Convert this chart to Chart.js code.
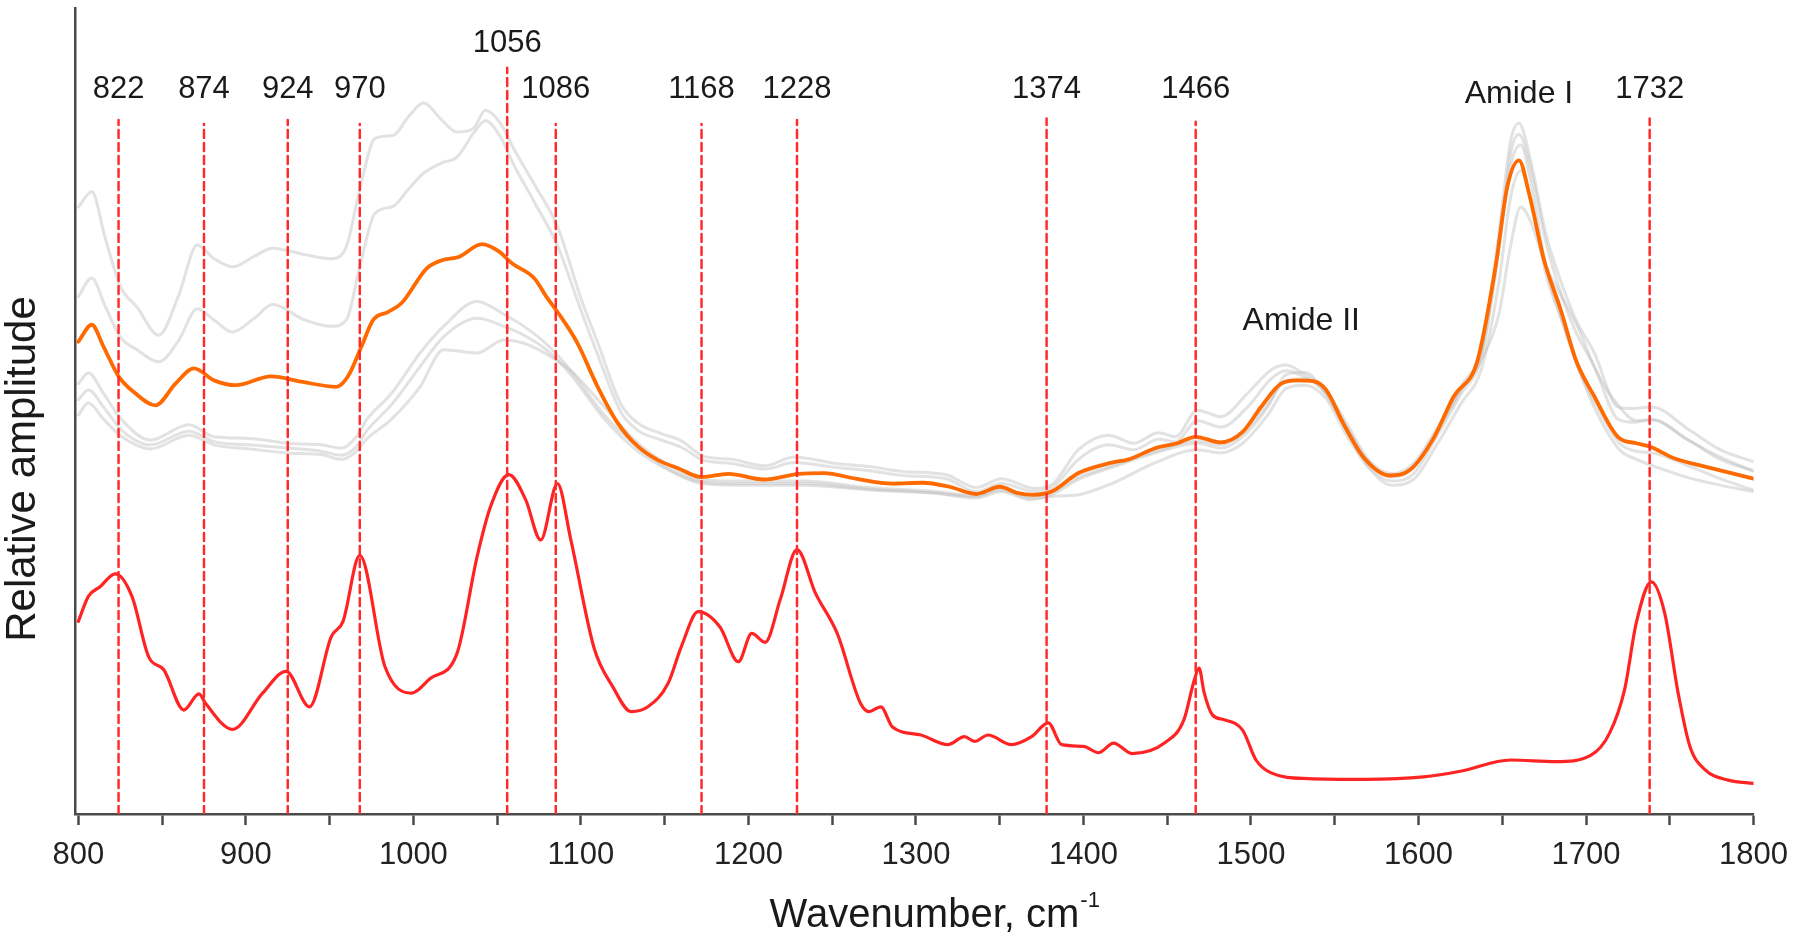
<!DOCTYPE html>
<html>
<head>
<meta charset="utf-8">
<title>Spectra</title>
<script src="https://cdn.jsdelivr.net/npm/chart.js@4.4.1/dist/chart.umd.min.js"></script>
<style>
  html, body { margin: 0; padding: 0; background: #fff; }
  #wrap { width: 1800px; height: 937px; position: relative; }
</style>
</head>
<body>
<div id="wrap"><canvas id="spectra"></canvas></div>
<script>
// wavenumbers (cm-1) and relative amplitude (0 = axis, 100 = top of frame)
const redWn = [800, 806, 813, 822, 832, 842, 851, 863, 872, 876, 892, 910, 924, 938, 951, 958, 968, 983, 999, 1010,
  1026, 1038, 1046, 1057, 1067, 1076, 1086, 1094, 1108, 1119, 1130, 1140, 1152, 1160, 1170, 1183, 1194, 1202, 1210, 1219,
  1229, 1240, 1253, 1267, 1272, 1279, 1286, 1303, 1319, 1329, 1335, 1343, 1357, 1369, 1379, 1387, 1400, 1409, 1418, 1429,
  1449, 1460, 1466, 1469, 1472, 1477, 1484, 1495, 1503, 1512, 1534, 1569, 1603, 1625, 1655, 1682, 1703, 1714, 1723, 1730,
  1739, 1747, 1755, 1762, 1771, 1785, 1800];
const redAmp = [23.9, 27.0, 28.2, 29.8, 27.0, 19.5, 17.9, 12.9, 14.9, 13.7, 10.5, 15.0, 17.7, 13.3, 22.0, 23.9, 32.1, 18.3, 15.0, 16.8,
  19.9, 31.9, 38.1, 42.1, 39.0, 34.0, 41.0, 34.0, 20.5, 15.8, 12.7, 13.3, 16.2, 20.8, 25.1, 23.2, 18.9, 22.4, 21.3, 26.6,
  32.8, 27.4, 22.4, 13.7, 12.7, 13.3, 10.8, 9.8, 8.6, 9.6, 9.0, 9.8, 8.6, 9.6, 11.3, 8.6, 8.4, 7.6, 8.8, 7.5,
  8.9, 11.7, 16.5, 18.1, 15.1, 12.3, 11.7, 10.4, 6.7, 5.1, 4.4, 4.3, 4.6, 5.3, 6.7, 6.5, 7.3, 10.0, 15.4, 23.7,
  28.8, 24.9, 15.0, 8.4, 5.5, 4.2, 3.8];

const orangeWn = [800, 808, 815, 824, 834, 846, 858, 869, 881, 894, 915, 934, 954, 961, 969, 976, 985, 993, 1008, 1017,
  1027, 1041, 1051, 1059, 1072, 1080, 1087, 1098, 1110, 1122, 1134, 1146, 1158, 1172, 1188, 1209, 1230, 1245, 1264, 1286,
  1304, 1320, 1336, 1350, 1361, 1370, 1381, 1397, 1417, 1427, 1443, 1456, 1467, 1482, 1495, 1506, 1518, 1528, 1537, 1545,
  1555, 1567, 1583, 1595, 1609, 1621, 1635, 1646, 1653, 1660, 1666, 1675, 1685, 1694, 1705, 1719, 1730, 1738, 1753, 1771,
  1800];
const orangeAmp = [58.6, 60.7, 58.0, 54.3, 52.2, 50.7, 53.4, 55.3, 53.8, 53.2, 54.3, 53.6, 53.0, 54.3, 58.0, 61.3, 62.3, 63.4, 67.7, 68.7,
  69.1, 70.7, 69.8, 68.3, 66.5, 64.0, 62.0, 58.4, 53.0, 48.5, 45.6, 43.9, 42.9, 41.8, 42.2, 41.5, 42.2, 42.3, 41.6, 41.0,
  41.1, 40.6, 39.7, 40.6, 39.8, 39.6, 40.0, 42.3, 43.6, 44.0, 45.4, 46.0, 46.8, 46.1, 47.4, 50.5, 53.4, 53.8, 53.7, 52.6,
  48.5, 44.3, 42.0, 42.7, 46.6, 51.8, 56.1, 67.9, 77.8, 81.1, 77.0, 68.7, 62.5, 56.3, 51.8, 46.8, 46.0, 45.6, 44.1, 43.1,
  41.6];

// individual spectra (grey), upper pair
const greyUpperWn = [800, 808, 816, 825, 835, 848, 860, 871, 881, 892, 905, 916, 935, 951, 960, 968, 977, 988, 997, 1006,
  1017, 1026, 1036, 1043, 1052, 1060, 1072, 1086, 1100, 1110, 1124, 1134, 1148, 1160, 1173, 1190, 1210, 1227, 1252, 1272,
  1292, 1318, 1336, 1351, 1371, 1382, 1397, 1415, 1430, 1445, 1455, 1468, 1482, 1498, 1512, 1521, 1530, 1545, 1557, 1570,
  1584, 1597, 1610, 1625, 1638, 1648, 1655, 1660, 1667, 1676, 1686, 1694, 1705, 1719, 1728, 1739, 1762, 1780, 1800];
const grey1Amp = [75.3, 77.2, 71.5, 65.5, 62.9, 59.4, 64.4, 70.6, 68.9, 67.9, 69.2, 70.2, 69.4, 68.9, 70.4, 77.5, 83.8, 84.2, 86.5, 88.2,
  86.1, 84.6, 85.1, 87.3, 85.7, 82.5, 78.2, 72.9, 64.0, 58.5, 50.8, 48.5, 47.2, 46.3, 44.4, 44.0, 43.2, 44.3, 43.5, 43.1,
  42.5, 42.1, 40.5, 41.6, 40.4, 41.0, 45.2, 47.0, 46.0, 47.3, 46.8, 50.1, 49.3, 52.2, 55.1, 55.7, 54.8, 52.5, 48.5, 44.0,
  42.2, 43.5, 47.5, 53.0, 58.0, 72.0, 83.5, 85.7, 81.0, 72.0, 65.5, 61.3, 57.2, 50.5, 50.3, 50.5, 47.6, 45.2, 43.7];
const grey2Amp = [64.2, 66.5, 63.0, 59.2, 57.6, 56.1, 58.8, 62.7, 61.3, 59.8, 61.5, 63.2, 61.3, 60.5, 61.3, 67.9, 74.5, 75.4, 77.5, 79.5,
  80.8, 81.5, 84.5, 86.0, 84.0, 80.5, 76.0, 70.5, 62.5, 57.0, 49.8, 47.6, 46.4, 45.5, 43.9, 43.5, 42.8, 43.6, 43.0, 42.6,
  42.0, 41.6, 40.0, 41.0, 40.0, 40.6, 44.0, 45.8, 45.2, 46.5, 46.2, 48.8, 48.0, 50.5, 54.0, 55.0, 54.4, 52.2, 48.0, 43.6,
  41.9, 43.0, 47.0, 52.5, 57.5, 70.5, 82.0, 84.3, 80.0, 71.0, 64.0, 59.8, 55.5, 49.0, 48.6, 48.9, 46.3, 44.0, 42.6];

// individual spectra (grey), lower group
const greyLowerWn = [800, 806, 815, 826, 843, 866, 881, 902, 925, 945, 957, 966, 972, 987, 1004, 1018, 1038, 1054, 1066, 1080,
  1094, 1114, 1134, 1154, 1172, 1193, 1233, 1272, 1312, 1336, 1351, 1368, 1380, 1397, 1417, 1443, 1468, 1482, 1495, 1510,
  1521, 1532, 1545, 1557, 1570, 1584, 1597, 1610, 1625, 1638, 1648, 1655, 1661, 1667, 1676, 1686, 1696, 1706, 1720, 1730,
  1740, 1760, 1780, 1800];
const grey3Amp = [53.4, 54.7, 52.2, 48.9, 46.4, 48.3, 46.8, 46.6, 46.0, 45.8, 45.4, 46.8, 48.9, 52.2, 57.2, 60.5, 63.6, 62.0, 60.5, 58.2,
  55.0, 49.5, 45.5, 42.6, 41.2, 41.0, 41.0, 40.3, 39.8, 39.2, 40.0, 39.0, 39.5, 41.5, 43.0, 44.8, 46.0, 45.4, 46.8, 50.5,
  54.5, 54.8, 52.0, 47.5, 43.2, 41.3, 42.2, 46.5, 52.0, 57.0, 70.0, 80.5, 83.0, 78.5, 68.0, 61.0, 55.0, 50.8, 46.0, 45.0,
  44.8, 43.3, 41.6, 40.2];
const grey4Amp = [51.4, 52.6, 50.5, 47.6, 45.8, 47.5, 46.2, 45.8, 45.4, 45.0, 44.5, 45.6, 47.5, 50.8, 55.5, 59.2, 61.5, 60.5, 59.4, 57.5,
  54.5, 49.0, 45.0, 42.5, 41.0, 40.8, 40.8, 40.2, 39.8, 39.4, 40.5, 39.4, 39.8, 41.8, 43.2, 45.0, 46.3, 45.8, 47.2, 50.8,
  53.8, 54.0, 52.2, 48.0, 43.8, 41.8, 43.0, 47.2, 52.5, 56.5, 62.0, 70.5, 75.3, 73.5, 68.0, 64.0, 60.0, 55.0, 50.5, 48.8,
  48.9, 46.5, 44.3, 42.5];
const grey5Amp = [49.5, 51.0, 49.0, 46.8, 45.3, 47.0, 45.8, 45.3, 44.8, 44.6, 44.0, 45.0, 46.5, 49.0, 53.0, 57.6, 57.2, 58.8, 58.4, 57.0,
  55.0, 50.5, 46.0, 43.1, 41.4, 41.3, 41.3, 40.5, 40.0, 39.5, 40.2, 39.2, 39.4, 39.6, 41.0, 43.6, 45.2, 44.8, 46.0, 49.5,
  52.8, 53.2, 51.5, 47.0, 43.0, 40.8, 41.5, 45.5, 50.8, 55.5, 66.0, 76.5, 79.8, 76.0, 67.0, 61.0, 55.0, 50.0, 45.2, 44.0,
  43.2, 41.8, 40.8, 40.0];

// marked bands
const peakWn = [824, 875, 925, 968, 1056, 1085, 1172, 1229, 1378, 1467, 1738];
const peakLabels = ['822', '874', '924', '970', '1056', '1086', '1168', '1228', '1374', '1466', '1732'];
const bandWn = [1530, 1660];
const bandLabels = ['Amide II', 'Amide I'];

// x axis ticks (labelled every 100)
const xTickValues = [800, 850, 900, 950, 1000, 1050, 1100, 1150, 1200, 1250, 1300, 1350, 1400, 1450, 1500, 1550, 1600,
  1650, 1700, 1750, 1800];

// layout: where the dashed markers stop and where labels sit (in axis units)
const dashTop = [86.1, 85.6, 86.1, 85.6, 92.6, 85.6, 85.6, 86.1, 86.3, 85.9, 86.3];
const peakLabelY = [88.8, 88.8, 88.8, 88.8, 94.5, 88.8, 88.8, 88.8, 88.8, 88.8, 88.8];
const bandLabelY = [60.0, 88.2];

const FONT = '"Liberation Sans", Arial, sans-serif';
Chart.defaults.font.family = FONT;

const toPoints = (wn, amp) => wn.map((x, i) => ({ x, y: amp[i] }));

const datasets = [];
peakWn.forEach((wn, i) => {
  datasets.push({
    label: 'band ' + peakLabels[i],
    data: [{ x: wn, y: 0 }, { x: wn, y: dashTop[i] }],
    borderColor: '#ff2b2b',
    borderWidth: 2.5,
    borderDash: [8, 5],
    tension: 0,
    cubicInterpolationMode: 'default',
    order: 0,
  });
});
datasets.push({
  label: 'difference',
  data: toPoints(redWn, redAmp),
  borderColor: '#ff2424',
  borderWidth: 3.2,
  order: 1,
});
datasets.push({
  label: 'mean',
  data: toPoints(orangeWn, orangeAmp),
  borderColor: '#ff6a00',
  borderWidth: 3.8,
  order: 2,
});
[[greyUpperWn, grey1Amp], [greyUpperWn, grey2Amp], [greyLowerWn, grey3Amp], [greyLowerWn, grey4Amp], [greyLowerWn, grey5Amp]]
  .forEach(([wn, amp], i) => {
    datasets.push({
      label: 'spectrum ' + (i + 1),
      data: toPoints(wn, amp),
      borderColor: 'rgba(190, 190, 190, 0.45)',
      borderWidth: 3,
      order: 3,
    });
  });

const annotate = {
  id: 'annotate',
  afterDatasetsDraw(chart) {
    const { ctx, scales: { x, y } } = chart;
    ctx.save();
    ctx.fillStyle = '#1a1a1a';
    ctx.textAlign = 'center';
    ctx.textBaseline = 'alphabetic';
    ctx.font = '31px ' + FONT;
    peakLabels.forEach((t, i) => {
      ctx.fillText(t, x.getPixelForValue(peakWn[i]), y.getPixelForValue(peakLabelY[i]));
    });
    ctx.font = '32px ' + FONT;
    bandLabels.forEach((t, i) => {
      ctx.fillText(t, x.getPixelForValue(bandWn[i]), y.getPixelForValue(bandLabelY[i]));
    });
    ctx.restore();
  },
  afterDraw(chart) {
    const { ctx, chartArea } = chart;
    ctx.save();
    ctx.fillStyle = '#1a1a1a';
    ctx.textBaseline = 'alphabetic';

    // y title
    ctx.font = '42px ' + FONT;
    ctx.textAlign = 'center';
    ctx.translate(chartArea.left - 40, (chartArea.top + chartArea.bottom) / 2 + 58);
    ctx.rotate(-Math.PI / 2);
    ctx.fillText('Relative amplitude', 0, 0);
    ctx.setTransform(1, 0, 0, 1, 0, 0);

    // x title with superscript
    const main = 'Wavenumber, cm';
    const sup = '-1';
    ctx.font = '40px ' + FONT;
    const wMain = ctx.measureText(main).width;
    ctx.font = '22px ' + FONT;
    const wSup = ctx.measureText(sup).width;
    const cx = (chartArea.left + chartArea.right) / 2 + 20;
    const base = chartArea.bottom + 113;
    const x0 = cx - (wMain + wSup) / 2;
    ctx.textAlign = 'left';
    ctx.font = '40px ' + FONT;
    ctx.fillText(main, x0, base);
    ctx.font = '22px ' + FONT;
    ctx.fillText(sup, x0 + wMain + 1, base - 20);
    ctx.restore();
  },
};

new Chart(document.getElementById('spectra'), {
  type: 'line',
  data: { datasets },
  options: {
    responsive: true,
    maintainAspectRatio: false,
    animation: false,
    events: [],
    layout: { padding: { top: 8, right: 37, bottom: 0, left: 0 } },
    elements: {
      point: { radius: 0 },
      line: { cubicInterpolationMode: 'monotone', fill: false, borderCapStyle: 'round', borderJoinStyle: 'round' },
    },
    plugins: {
      legend: { display: false },
      tooltip: { enabled: false },
    },
    scales: {
      x: {
        type: 'linear',
        min: 798,
        max: 1800,
        afterBuildTicks: s => { s.ticks = xTickValues.map(value => ({ value })); },
        afterFit: s => { s.height = 123; },
        ticks: {
          autoSkip: false,
          maxRotation: 0,
          padding: 12,
          color: '#222',
          font: { size: 31 },
          callback: v => (v % 100 === 0 ? String(v) : ''),
        },
        grid: {
          display: true,
          drawOnChartArea: false,
          drawTicks: true,
          tickLength: 11,
          tickWidth: 2.5,
          tickColor: '#4a4a4a',
        },
        border: { display: true, color: '#4a4a4a', width: 2.5 },
      },
      y: {
        min: 0,
        max: 100,
        afterFit: s => { s.width = 75; },
        ticks: { display: false },
        grid: { display: false },
        border: { display: true, color: '#4a4a4a', width: 2.5 },
      },
    },
  },
  plugins: [annotate],
});
</script>
</body>
</html>
